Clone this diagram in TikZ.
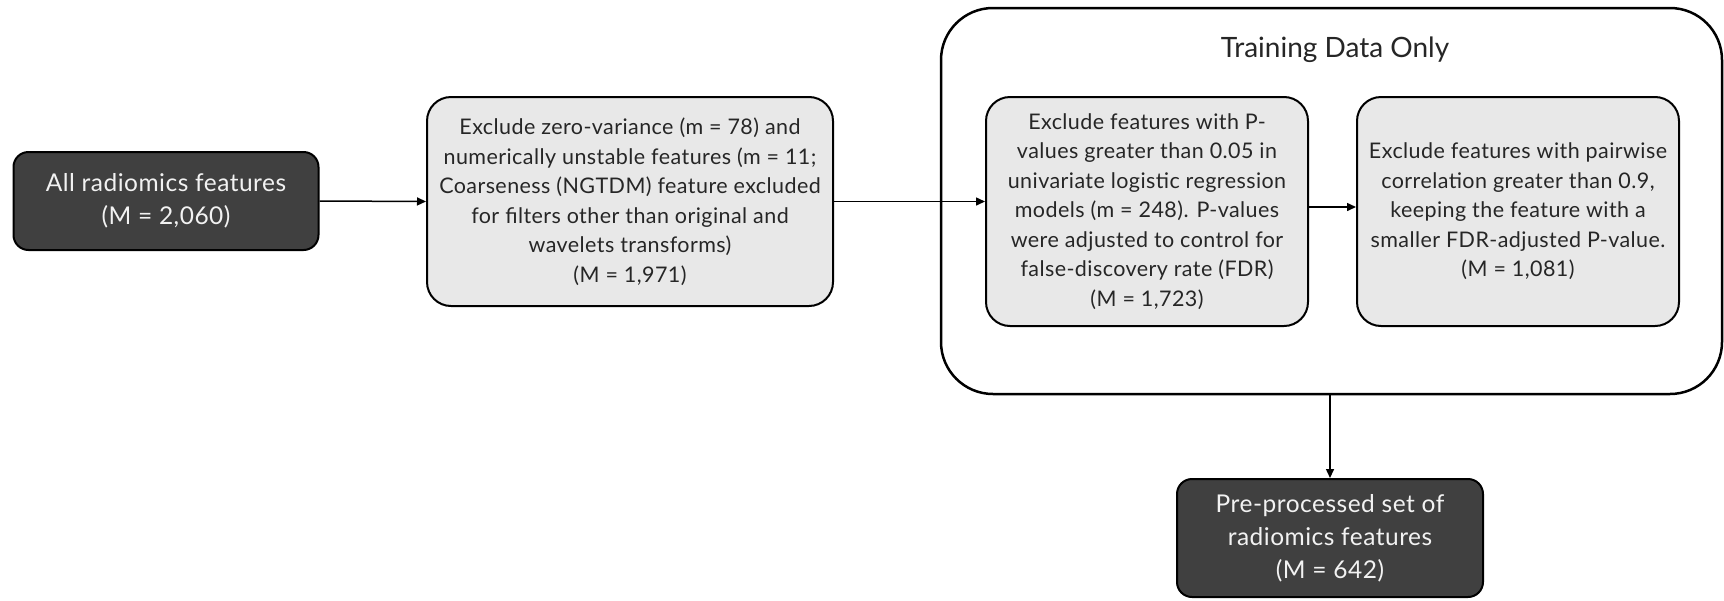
\documentclass[tikz,border=0pt]{standalone}
\usepackage{fontspec}
\setmainfont{Lato}
\newfontfamily\boxfont[LetterSpace=2]{Lato}
\usetikzlibrary{arrows.meta,calc}
\definecolor{darkfill}{HTML}{404040}
\definecolor{lightfill}{HTML}{E8E8E8}
\definecolor{darktext}{HTML}{F2F2F2}
\tikzset{
  darkbox/.style={draw=black, line width=2pt, fill=darkfill, text=darktext, rounded corners=15pt, inner sep=0pt, align=center, font=\boxfont\fontsize{24.5}{33}\selectfont},
  lightbox/.style={draw=black, line width=2pt, fill=lightfill, text=black!85, rounded corners=24pt, inner sep=0pt, align=center, font=\boxfont\fontsize{21.5}{29.5}\selectfont},
  group/.style={draw=black, line width=2.5pt, fill=white, rounded corners=52pt, inner sep=0pt},
  conn/.style={line width=1.5pt, -{Triangle[length=9pt,width=8pt]}},
}
\begin{document}
\begin{tikzpicture}[x=1pt,y=-1pt]
\useasboundingbox (0,0) rectangle (1724,600);
\node[group, minimum width=781pt, minimum height=386pt] (cont) at (1331.5,201) {};
\node[font=\fontsize{28}{34}\selectfont, text=black!85] (title) at (1335,50) {Training Data Only};
\node[darkbox, minimum width=305pt, minimum height=98pt] (b1) at (166,201)
  {All radiomics features\\(M = 2,060)};
\node[lightbox, minimum width=406pt, minimum height=209pt] (b2) at (630,201.5)
  {Exclude zero-variance (m = 78) and\\numerically unstable features (m = 11;\\Coarseness (NGTDM) feature excluded\\for filters other than original and\\wavelets transforms)\\(M = 1,971)};
\node[lightbox, minimum width=322pt, minimum height=229pt] (b3) at (1147,211.5)
  {Exclude features with P-\\values greater than 0.05 in\\univariate logistic regression\\models (m = 248). P-values\\were adjusted to control for\\false-discovery rate (FDR)\\(M = 1,723)};
\node[lightbox, minimum width=322pt, minimum height=229pt] (b4) at (1518,211.5)
  {Exclude features with pairwise\\correlation greater than 0.9,\\keeping the feature with a\\smaller FDR-adjusted P-value.\\(M = 1,081)};
\node[darkbox, minimum width=306pt, minimum height=118pt] (b5) at (1330,538)
  {Pre-processed set of\\radiomics features\\(M = 642)};
\draw[conn] (b1.east) -- (b2.west);
\draw[conn] (b2.east) -- (b2.east -| b3.west);
\draw[conn] ([yshift=4.5pt]b3.east) -- ([yshift=4.5pt]b3.east -| b4.west);
\draw[conn] (cont.south -| b5.north) -- (b5.north);
\end{tikzpicture}
\end{document}
